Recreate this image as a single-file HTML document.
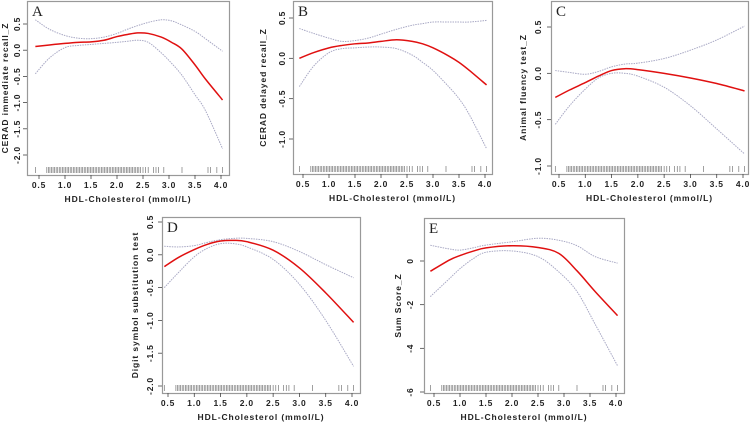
<!DOCTYPE html>
<html><head><meta charset="utf-8">
<style>
html,body{margin:0;padding:0;background:#fff;}
svg{display:block;}
.tk{font-family:"Liberation Sans",sans-serif;font-size:8.5px;font-weight:bold;fill:#222;letter-spacing:0.8px;}
.ttl{font-family:"Liberation Sans",sans-serif;font-size:8.5px;font-weight:bold;fill:#222;letter-spacing:0.9px;}
.lt{font-family:"Liberation Serif",serif;font-size:15px;fill:#222;}
</style></head>
<body>
<svg id="chart" width="750" height="423" viewBox="0 0 750 423"></svg>
<script>
// ---- data ----
const xTicks = [0.5,1.0,1.5,2.0,2.5,3.0,3.5,4.0];
const xTickLabels = ["0.5","1.0","1.5","2.0","2.5","3.0","3.5","4.0"];
const rugValues = [0.43,0.65,0.68,0.71,0.74,0.77,0.8,0.83,0.86,0.89,0.92,0.95,0.98,1.01,1.04,1.07,1.1,1.13,1.16,1.19,1.22,1.25,1.28,1.31,1.34,1.37,1.4,1.43,1.46,1.49,1.52,1.55,1.58,1.61,1.64,1.67,1.7,1.73,1.76,1.79,1.82,1.85,1.88,1.91,1.94,1.97,2.0,2.03,2.06,2.09,2.12,2.15,2.18,2.21,2.24,2.27,2.3,2.33,2.36,2.39,2.42,2.45,2.5,2.55,2.6,2.7,2.75,2.8,2.9,3.25,3.75,3.8,3.92,4.03];

const aX=[0.43,0.7,1.0,1.25,1.5,1.75,2.0,2.2,2.4,2.6,2.85,3.05,3.25,3.5,3.7,4.03];
const aFit=[0.07,0.1,0.13,0.15,0.16,0.19,0.26,0.3,0.33,0.32,0.25,0.15,0.02,-0.28,-0.55,-0.95];
const aUp=[0.58,0.4,0.28,0.23,0.22,0.25,0.32,0.4,0.47,0.53,0.58,0.56,0.48,0.36,0.22,-0.02];
const aLo=[-0.45,-0.15,0.05,0.09,0.11,0.13,0.15,0.17,0.19,0.15,-0.05,-0.25,-0.48,-0.85,-1.15,-1.88];

const bX=[0.43,0.7,1.0,1.25,1.5,1.75,2.0,2.3,2.6,2.8,3.0,3.3,3.5,3.7,4.03];
const bFit=[0.0,0.07,0.13,0.16,0.18,0.19,0.21,0.23,0.21,0.18,0.13,0.03,-0.05,-0.15,-0.33];
const bUp=[0.37,0.31,0.25,0.21,0.22,0.25,0.3,0.36,0.41,0.43,0.45,0.45,0.45,0.45,0.47];
const bLo=[-0.35,-0.1,0.07,0.12,0.13,0.14,0.14,0.12,0.04,-0.05,-0.15,-0.35,-0.5,-0.7,-1.12];

const cX=[0.43,0.7,1.0,1.25,1.5,1.75,2.0,2.5,3.0,3.5,4.03];
const cFit=[-0.26,-0.18,-0.1,-0.03,0.03,0.05,0.04,0.0,-0.05,-0.11,-0.19];
const cUp=[0.03,0.01,-0.01,0.02,0.07,0.1,0.11,0.16,0.25,0.36,0.51];
const cLo=[-0.55,-0.35,-0.17,-0.05,0.0,0.0,-0.03,-0.15,-0.35,-0.6,-0.87];

const dX=[0.43,0.7,1.0,1.25,1.5,1.75,2.0,2.5,3.0,3.5,4.03];
const dFit=[-0.18,-0.04,0.08,0.16,0.21,0.22,0.2,0.07,-0.2,-0.58,-1.03];
const dUp=[0.13,0.12,0.14,0.19,0.23,0.25,0.25,0.2,0.05,-0.15,-0.35];
const dLo=[-0.5,-0.27,-0.03,0.1,0.17,0.17,0.12,-0.07,-0.45,-1.0,-1.7];

const eX=[0.43,0.8,1.0,1.25,1.5,2.0,2.5,2.9,3.25,3.6,4.03];
const eFit=[-0.47,0.05,0.25,0.45,0.6,0.7,0.62,0.35,-0.45,-1.4,-2.5];
const eUp=[0.72,0.55,0.5,0.6,0.73,0.88,1.04,0.95,0.7,0.2,-0.1];
const eLo=[-1.63,-0.8,-0.35,0.1,0.4,0.46,0.2,-0.5,-1.4,-2.9,-4.8];

const yTicksA=[0.5,0.0,-0.5,-1.0,-1.5,-2.0], yLabA=["0.5","0.0","-0.5","-1.0","-1.5","-2.0"];
const yTicksB=[0.5,0.0,-0.5,-1.0], yLabB=["0.5","0.0","-0.5","-1.0"];
const yTicksC=[0.5,0.0,-0.5,-1.0], yLabC=["0.5","0.0","-0.5","-1.0"];
const yTicksD=[0.5,0.0,-0.5,-1.0,-1.5,-2.0], yLabD=["0.5","0.0","-0.5","-1.0","-1.5","-2.0"];
const yTicksE=[0,-2,-4,-6], yLabE=["0","-2","-4","-6"];

// ---- geometry ----
const panels=[
 {id:"a",letter:"A",title:"CERAD immediate recall_Z",L:27,R:229,T:1,B:175,x05:39,x40:221,yv1:0.5,yp1:24,yv2:-2.0,yp2:155,tkX:17,ttX:5,xs:aX,fit:aFit,up:aUp,lo:aLo,yt:yTicksA,yl:yLabA},
 {id:"b",letter:"B",title:"CERAD delayed recall_Z",L:293,R:492,T:1,B:174,x05:303,x40:485,yv1:0.5,yp1:18,yv2:-1.0,yp2:139,tkX:282,ttX:263,xs:bX,fit:bFit,up:bUp,lo:bLo,yt:yTicksB,yl:yLabB},
 {id:"c",letter:"C",title:"Animal fluency test_Z",L:551,R:748,T:1,B:174,x05:559,x40:743,yv1:0.5,yp1:27,yv2:-1.0,yp2:166,tkX:538,ttX:523,xs:cX,fit:cFit,up:cUp,lo:cLo,yt:yTicksC,yl:yLabC},
 {id:"d",letter:"D",title:"Digit symbol substitution test",L:162,R:360,T:217,B:393,x05:168,x40:352,yv1:0.5,yp1:222,yv2:-2.0,yp2:386,tkX:150,ttX:135,xs:dX,fit:dFit,up:dUp,lo:dLo,yt:yTicksD,yl:yLabD},
 {id:"e",letter:"E",title:"Sum Score_Z",L:424,R:624,T:218,B:393,x05:434,x40:616,yv1:0,yp1:261,yv2:-6,yp2:392,tkX:410,ttX:398,xs:eX,fit:eFit,up:eUp,lo:eLo,yt:yTicksE,yl:yLabE}
];
const NS="http://www.w3.org/2000/svg";
const svg=document.getElementById('chart');
function mk(tag,attrs,parent){const e=document.createElementNS(NS,tag);for(const k in attrs)e.setAttribute(k,attrs[k]);(parent||svg).appendChild(e);return e;}
function smooth(pts){let d="M"+pts[0][0].toFixed(2)+","+pts[0][1].toFixed(2);
 for(let i=0;i<pts.length-1;i++){const p0=pts[i-1]||pts[i],p1=pts[i],p2=pts[i+1],p3=pts[i+2]||p2;
  const c1=[p1[0]+(p2[0]-p0[0])/6,p1[1]+(p2[1]-p0[1])/6],c2=[p2[0]-(p3[0]-p1[0])/6,p2[1]-(p3[1]-p1[1])/6];
  d+=" C"+c1[0].toFixed(2)+","+c1[1].toFixed(2)+" "+c2[0].toFixed(2)+","+c2[1].toFixed(2)+" "+p2[0].toFixed(2)+","+p2[1].toFixed(2);}
 return d;}
panels.forEach(p=>{
 const xs=v=>p.x05+(v-0.5)*(p.x40-p.x05)/3.5;
 const ys=v=>p.yp1+(v-p.yv1)*(p.yp2-p.yp1)/(p.yv2-p.yv1);
 const g=mk('g',{});
 
 
 const box=mk('rect',{x:p.L+0.5,y:p.T+0.5,width:p.R-p.L,height:p.B-p.T,fill:'none',stroke:'#999','stroke-width':1.2},g);
 
 
 const lt=mk('text',{x:p.L+5,y:p.T+15,class:'lt'},g);lt.textContent=p.letter;
 
 
 xTicks.forEach((v,i)=>{const x=xs(v);
  mk('line',{x1:x,x2:x,y1:p.B,y2:p.B+4,stroke:'#444','stroke-width':0.8},g);
  const t=mk('text',{x:x,y:p.B+13,'text-anchor':'middle',class:'tk'},g);t.textContent=xTickLabels[i];
  
  });
 const xt=mk('text',{x:(p.L+p.R)/2,y:p.B+27,'text-anchor':'middle',class:'ttl'},g);xt.textContent="HDL-Cholesterol (mmol/L)";
 
 
 p.yt.forEach((v,i)=>{const y=ys(v);
  mk('line',{x1:p.L-4,x2:p.L,y1:y,y2:y,stroke:'#444','stroke-width':0.8},g);
  const t=mk('text',{x:p.tkX,y:y,'text-anchor':'middle',transform:'rotate(-90 '+p.tkX+' '+y+')',class:'tk',dy:'3'},g);t.textContent=p.yl[i];
  
  });
 const cy=(p.T+p.B)/2;
 const yt=mk('text',{x:p.ttX,y:cy,'text-anchor':'middle',transform:'rotate(-90 '+p.ttX+' '+cy+')',class:'ttl',dy:'3'},g);yt.textContent=p.title;
 
 
 rugValues.forEach(v=>{const x=xs(v);const r=mk('line',{x1:x,x2:x,y1:p.B-8,y2:p.B-2,stroke:'#777','stroke-width':0.7},g);
  
  });
 [['up','upper-ci'],['lo','lower-ci']].forEach(([k,n])=>{
  const c=mk('path',{d:smooth(p.xs.map((x,i)=>[xs(x),ys(p[k][i])])),fill:'none',stroke:'#a8a8c4','stroke-width':1,'stroke-dasharray':'1.5,1'},g);
  
  });
 const f=mk('path',{d:smooth(p.xs.map((x,i)=>[xs(x),ys(p.fit[i])])),fill:'none',stroke:'#e01010','stroke-width':1.5},g);
 
 
});
</script>
</body></html>
